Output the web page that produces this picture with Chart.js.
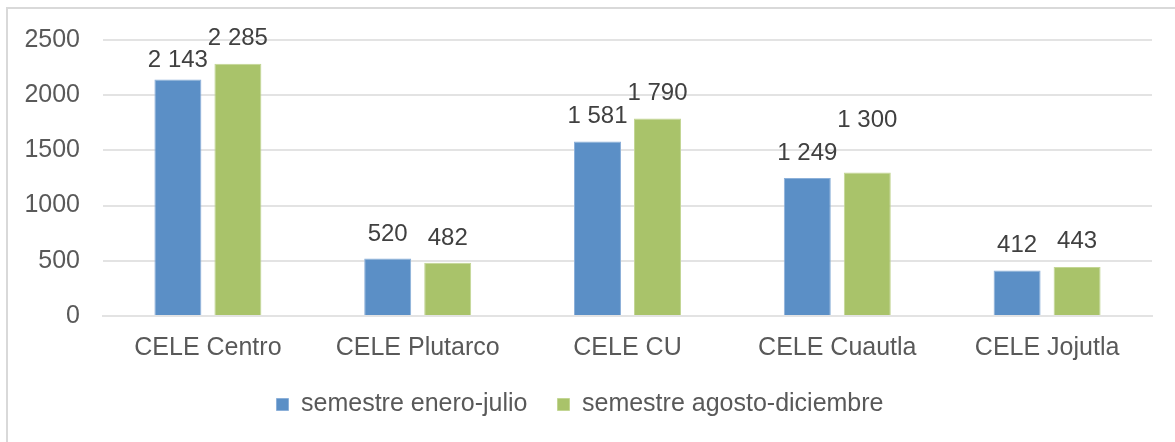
<!DOCTYPE html>
<html>
<head>
<meta charset="utf-8">
<script src="https://cdn.jsdelivr.net/npm/chart.js@4"></script>
<style>
  html, body { margin: 0; padding: 0; background: #fff; }
  .wrapper {
    position: absolute;
    left: 6px;
    top: 7px;
    width: 1167px;
    height: 433px;
    border-left: 2px solid #d9d9d9;
    border-top: 2px solid #d9d9d9;
  }
</style>
</head>
<body>
<div class="wrapper">
  <canvas id="myChart" width="1167" height="433"></canvas>
</div>
<script>
const categories = ["CELE Centro", "CELE Plutarco", "CELE CU", "CELE Cuautla", "CELE Jojutla"]
const seriesNames = ["semestre enero-julio", "semestre agosto-diciembre"]
const eneroJulio = [2143, 520, 1581, 1249, 412]
const agostoDiciembre = [2285, 482, 1790, 1300, 443]
const yTicks = [0, 500, 1000, 1500, 2000, 2500]

const FONT = "'Liberation Sans', Arial, sans-serif"
const TEXT = "#595959"

// thousands with a space, like the original "2 143"
const fmt = v => String(v).replace(/\B(?=(\d{3})+(?!\d))/g, " ")

const valueLabels = {
  id: "valueLabels",
  afterDatasetsDraw(chart, args, opts) {
    const ctx = chart.ctx
    ctx.save()
    ctx.font = "24px " + FONT
    ctx.fillStyle = "#404040"
    ctx.textAlign = "center"
    ctx.textBaseline = "alphabetic"
    chart.data.datasets.forEach((ds, di) => {
      chart.getDatasetMeta(di).data.forEach((bar, i) => {
        const gap = opts.gaps[di][i]
        ctx.fillText(fmt(ds.data[i]), bar.x, bar.y - gap)
      })
    })
    ctx.restore()
  }
}

new Chart(document.getElementById("myChart").getContext("2d"), {
  type: "bar",
  data: {
    labels: categories,
    datasets: [
      {
        label: seriesNames[0],
        data: eneroJulio,
        backgroundColor: "#5b8fc6",
        borderColor: "#8cb0d9",
        borderWidth: 1,
        categoryPercentage: 0.572,
        barPercentage: 0.783
      },
      {
        label: seriesNames[1],
        data: agostoDiciembre,
        backgroundColor: "#a9c36a",
        borderColor: "#c3d694",
        borderWidth: 1,
        categoryPercentage: 0.572,
        barPercentage: 0.783
      }
    ]
  },
  options: {
    responsive: false,
    animation: false,
    layout: { padding: { top: 31, right: 23, bottom: 15, left: 0 } },
    scales: {
      x: {
        grid: { display: false, drawTicks: false },
        border: { display: true, color: "#e3e3e3", width: 2 },
        ticks: { color: TEXT, font: { family: FONT, size: 25 }, padding: 17, maxRotation: 0 },
        afterFit: scale => { scale.height = 46 }
      },
      y: {
        min: 0,
        max: 2500,
        afterBuildTicks: scale => { scale.ticks = yTicks.map(v => ({ value: v })) },
        grid: { color: "#e3e3e3", lineWidth: 2, drawTicks: false },
        border: { display: false },
        ticks: { color: TEXT, font: { family: FONT, size: 25 }, padding: 23, callback: v => String(v) },
        afterFit: scale => {
          scale.width = 95
          scale.paddingTop = 0
          scale.paddingBottom = 0
        }
      }
    },
    plugins: {
      legend: {
        position: "bottom",
        labels: {
          color: TEXT,
          font: { family: FONT, size: 25 },
          boxWidth: 12,
          boxHeight: 12,
          padding: 30
        }
      },
      tooltip: { enabled: false },
      valueLabels: {
        gaps: [[12, 18, 18, 18, 19], [19, 18, 18, 45, 19]]
      }
    }
  },
  plugins: [valueLabels]
})
</script>
</body>
</html>
